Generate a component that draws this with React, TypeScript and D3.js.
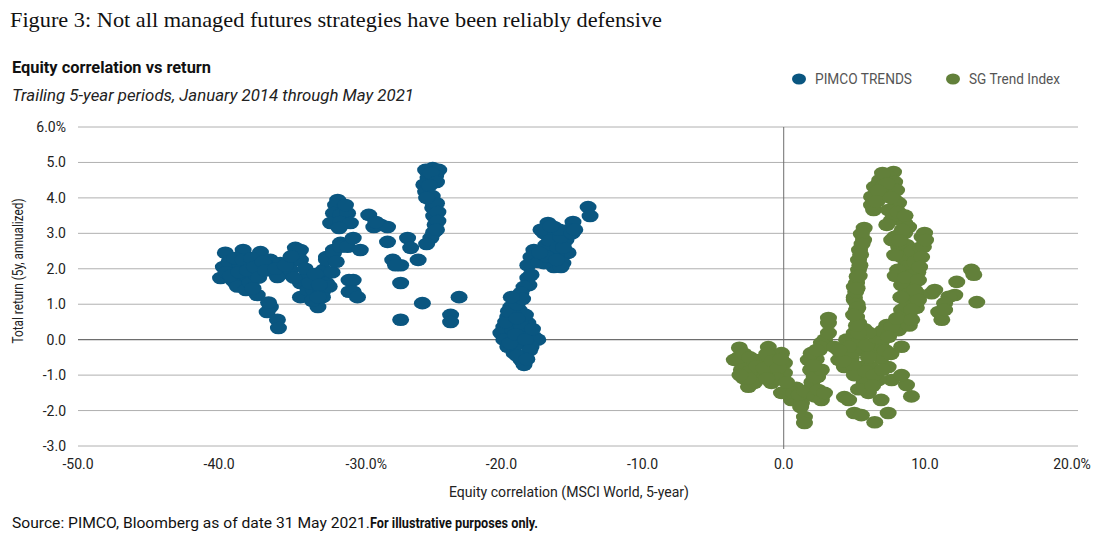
import React from "react";
import * as d3 from "d3";

const xTicks = [-50, -40, -30, -20, -10, 0, 10, 20];
const xTickLabels = ["-50.0", "-40.0", "-30.0%", "-20.0", "-10.0", "0.0", "10.0", "20.0%"];
const yTicks = [6, 5, 4, 3, 2, 1, 0, -1, -2, -3];
const yTickLabels = ["6.0%", "5.0", "4.0", "3.0", "2.0", "1.0", "0.0", "-1.0", "-2.0", "-3.0"];

// [equity correlation %, total return %]
const pimcoTrends: [number, number][] = [
  [-39.9, 1.74], [-39.7, 2.05], [-39.56, 2.45], [-39.3, 2.2], [-39.0, 1.88], [-39.05, 1.68], [-38.85, 1.6],
  [-38.7, 1.5], [-38.5, 2.1], [-38.3, 2.53], [-38.1, 1.83], [-38.1, 1.4], [-37.8, 2.1], [-37.8, 1.6],
  [-37.4, 1.83], [-37.3, 1.26], [-37.07, 2.47], [-36.37, 2.25], [-36.37, 2.05], [-36.37, 0.92], [-36.6, 0.78],
  [-35.87, 0.56], [-35.8, 0.33], [-35.66, 2.16], [-35.45, 1.88], [-35.87, 1.77], [-34.95, 1.97], [-34.6, 2.59],
  [-34.45, 2.25], [-34.24, 1.6], [-34.24, 1.2], [-34.24, 2.53], [-34.24, 2.25], [-33.75, 1.77], [-33.7, 1.4],
  [-33.32, 1.4], [-33.0, 0.92], [-32.8, 1.68], [-32.8, 1.32], [-32.68, 1.35], [-32.68, 1.2], [-32.6, 1.97],
  [-32.4, 2.33], [-32.4, 2.25], [-32.4, 1.6], [-31.9, 2.53], [-31.9, 2.45], [-31.4, 2.73], [-31.4, 2.62],
  [-30.9, 2.62], [-30.8, 1.68], [-30.8, 1.35], [-30.5, 2.87], [-30.0, 2.53], [-30.5, 1.68], [-30.5, 1.35],
  [-30.2, 1.2],
  [-39.5, 1.9], [-39.2, 1.8], [-38.9, 2.3], [-38.6, 1.9], [-38.3, 2.25], [-38.0, 1.95], [-37.7, 2.3],
  [-37.5, 2.05], [-37.2, 1.75], [-36.9, 2.2], [-36.7, 1.95], [-36.0, 2.0], [-35.3, 2.1], [-34.9, 2.35],
  [-34.7, 1.75], [-33.9, 2.0], [-33.6, 1.6], [-33.2, 1.85], [-37.6, 1.45], [-36.5, 1.05],
  [-33.4, 1.1], [-33.0, 1.2], [-32.2, 1.5], [-32.0, 1.9], [-31.7, 2.2], [-32.9, 1.55],
  [-31.6, 3.94], [-31.75, 3.8], [-31.9, 3.57], [-31.4, 3.52], [-30.9, 3.57], [-32.1, 3.29], [-31.4, 3.32],
  [-30.7, 3.29], [-31.05, 3.8], [-31.5, 3.15],
  [-29.4, 3.52], [-29.04, 3.18], [-28.57, 3.24], [-28.07, 3.18], [-28.9, 3.32],
  [-28.07, 2.76], [-27.7, 2.25], [-27.14, 2.1], [-27.5, 2.1], [-26.65, 2.87], [-26.43, 2.59], [-25.9, 2.25],
  [-27.14, 1.6], [-27.14, 0.56], [-25.6, 1.03], [-23.0, 1.2], [-23.6, 0.7], [-23.6, 0.5],
  [-25.37, 4.79], [-24.87, 4.84], [-24.44, 4.79], [-24.66, 4.62], [-25.2, 4.56], [-25.5, 4.37], [-25.37, 4.17],
  [-25.0, 3.94], [-24.87, 3.72], [-24.8, 3.49], [-24.7, 3.24], [-24.8, 3.03], [-25.0, 2.87], [-25.3, 2.7],
  [-25.0, 4.7], [-24.6, 4.45], [-25.1, 4.35], [-24.9, 4.05], [-24.6, 3.85], [-24.5, 3.6], [-24.5, 3.35],
  [-24.6, 3.1], [-25.3, 4.0],
  [-13.86, 3.74], [-13.72, 3.49], [-14.93, 3.32], [-15.2, 3.1], [-15.43, 2.81], [-15.28, 2.45], [-15.64, 2.16],
  [-16.7, 3.29], [-16.99, 3.01], [-16.28, 3.18], [-16.0, 2.81], [-16.49, 2.53], [-16.28, 2.05], [-15.78, 2.05],
  [-16.99, 2.16], [-17.7, 2.53], [-17.91, 2.33], [-18.13, 2.1], [-16.85, 2.67], [-16.14, 2.39], [-17.35, 2.19],
  [-16.5, 3.0], [-16.6, 2.8], [-16.0, 2.6], [-15.6, 2.6], [-16.8, 2.35], [-16.1, 2.25], [-17.3, 2.45],
  [-15.8, 2.9], [-15.9, 3.1], [-17.2, 3.1], [-16.5, 3.2], [-15.0, 3.0], [-14.8, 3.1],
  [-18.13, 1.74], [-18.05, 1.54], [-17.9, 1.83], [-18.4, 1.49], [-18.62, 1.32], [-19.1, 1.12], [-19.33, 0.92],
  [-18.75, 0.84], [-19.55, 0.64], [-19.83, 0.36], [-20.04, 0.19], [-19.83, 0.0], [-19.55, -0.2], [-19.1, -0.38],
  [-18.62, -0.57], [-18.4, -0.71], [-18.13, 0.47], [-17.7, 0.08], [-17.42, 0.0], [-17.9, -0.2], [-18.8, 0.08],
  [-18.4, 0.27], [-19.2, 0.27], [-18.98, -0.15], [-18.6, 0.41],
  [-19.4, -0.1], [-19.0, 0.15], [-18.3, 0.0], [-18.0, -0.3], [-18.9, -0.45], [-19.7, 0.5], [-19.5, 0.8],
  [-18.9, 1.0], [-18.5, 1.15], [-18.3, 0.7], [-17.8, 0.3], [-18.2, -0.55], [-19.3, 1.2], [-18.9, 0.6],
];

const sgTrendIndex: [number, number][] = [
  [-3.14, -0.23], [-3.5, -0.57], [-3.0, -0.85], [-2.5, -1.33], [-2.08, -0.57], [-1.09, -0.21], [-0.16, -0.38],
  [0.05, -0.66], [-0.66, -0.94], [-1.58, -1.05], [-0.87, -1.22], [-2.08, -1.22], [0.05, -0.94], [-2.65, -0.72],
  [-2.86, -1.08], [-1.58, -0.57], [-2.15, -0.9],
  [-3.2, -0.5], [-2.8, -0.4], [-2.4, -0.9], [-2.4, -0.5], [-1.9, -0.75], [-1.4, -0.8], [-1.2, -0.4],
  [-0.8, -0.6], [-0.4, -0.8], [-0.5, -1.1], [-1.2, -1.1], [-2.5, -1.1], [-3.1, -1.0], [-0.2, -0.55],
  [0.34, -1.42], [0.55, -1.7], [1.26, -1.79], [1.47, -2.18], [1.47, -2.35], [-0.16, -1.5], [0.9, -1.36], [1.8, -1.56],
  [0.7, -1.5], [1.1, -1.55], [1.5, -1.45], [2.0, -1.2], [1.9, -0.85], [2.3, -0.55], [2.5, -0.3], [2.9, 0.0],
  [2.4, -1.05], [0.2, -1.2], [1.2, -1.9], [2.2, -1.6],
  [1.74, -0.57], [1.95, -0.38], [2.16, -1.05], [2.45, -1.42], [2.67, -1.7], [2.89, -1.5], [2.67, -0.85],
  [2.67, -0.09], [3.17, 0.19], [3.17, 0.47], [3.17, 0.61], [2.67, -0.21], [2.32, -0.29], [2.1, -0.72],
  [3.6, -0.21], [3.9, -0.57], [4.3, -0.77], [4.1, -0.38], [4.45, 0.0],
  [4.3, -1.62], [4.6, -1.7], [5.0, -2.07], [5.5, -2.13], [6.45, -2.33], [7.4, -2.07], [6.9, -1.7], [6.0, -1.5],
  [5.0, 1.12], [5.16, 0.64], [5.0, 0.19], [5.3, -0.29], [5.5, -0.77], [5.7, -1.22], [6.2, -0.77], [6.45, -0.29],
  [6.9, -0.09], [7.4, 0.19], [7.86, 0.36], [7.4, -0.77], [7.65, -1.14], [6.7, -1.14], [6.1, -0.43], [5.4, 0.0],
  [6.9, -0.52], [5.87, -0.15], [7.3, 0.41], [8.35, 0.41],
  [4.8, -0.5], [4.6, -0.2], [5.0, -1.0], [5.3, -1.4], [5.8, -0.9], [6.0, -0.5], [6.4, -1.0], [6.6, 0.05],
  [7.0, 0.25], [7.2, -0.3], [7.0, -0.85], [6.3, -1.3], [5.7, 0.3], [6.0, 0.2], [7.6, -0.4], [4.9, -0.7],
  [4.2, -0.6], [3.9, -0.3],
  [8.7, -1.28], [9.05, -1.6], [8.35, -1.0], [8.35, -0.2],
  [5.7, 3.15], [5.66, 2.81], [5.37, 2.53], [5.3, 2.25], [5.3, 1.97], [5.16, 1.6], [5.0, 1.49], [5.0, 1.2],
  [5.16, 0.84], [5.3, 0.47], [5.3, 0.19], [5.5, 2.98], [5.2, 1.78], [5.1, 1.35], [5.2, 1.0],
  [5.55, 2.7], [5.45, 2.4], [5.4, 2.1], [5.35, 1.8], [5.2, 1.45], [5.25, 0.9], [5.15, 0.4], [4.95, 0.7],
  [7.78, 4.73], [7.43, 4.59], [6.43, 4.31], [6.22, 4.03], [6.37, 3.66], [7.43, 4.14], [7.86, 3.94], [8.14, 3.86],
  [7.43, 3.66], [7.65, 3.38], [8.35, 3.46], [8.57, 3.29], [8.85, 3.18], [8.57, 3.01], [7.86, 2.9], [8.14, 2.62],
  [8.35, 2.33], [8.57, 2.05], [8.85, 1.77], [9.07, 1.49], [8.85, 1.12], [8.85, 0.75], [8.57, 0.47], [8.14, 0.27],
  [7.65, 0.36], [7.43, 0.08], [6.8, 4.5], [6.9, 4.08], [7.1, 4.36], [7.86, 4.45], [8.0, 4.22], [6.22, 3.8],
  [8.0, 3.52], [8.2, 2.96], [8.7, 2.67], [7.3, 3.24], [7.65, 2.81], [7.86, 2.39], [8.07, 1.97], [8.35, 1.54],
  [8.57, 1.26], [8.35, 0.84],
  [7.0, 4.7], [7.3, 4.4], [6.7, 4.2], [6.6, 3.9], [7.6, 4.0], [8.1, 3.6], [8.6, 3.5], [8.4, 3.1], [8.2, 2.8],
  [9.1, 2.5], [9.3, 2.2], [9.5, 1.9], [9.0, 1.8], [9.2, 1.1], [9.4, 0.9], [8.9, 0.4], [9.8, 2.9], [9.7, 2.6],
  [9.5, 1.3], [8.7, 0.95], [8.3, 1.2], [8.0, 0.6], [7.9, 1.8], [8.6, 1.75],
  [9.98, 3.01], [9.9, 2.62], [9.77, 2.33], [9.63, 2.05], [9.55, 1.68], [9.27, 1.4], [9.55, 1.12], [9.07, 0.84],
  [9.07, 0.56], [10.48, 1.31], [10.7, 1.4], [10.05, 2.81],
  [13.3, 1.97], [13.47, 1.83], [12.26, 1.63], [12.12, 1.26], [11.7, 1.21], [11.4, 1.03], [10.98, 0.78],
  [11.2, 0.56], [11.4, 0.84], [13.68, 1.06],
];

const BLUE = "#0a5680";
const GREEN = "#62803a";

export default function App() {
  const W = 1100, H = 544;
  const x = d3.scaleLinear().domain([-50, 20]).range([78, 1066]);
  const y = d3.scaleLinear().domain([-3, 6]).range([446, 127]);
  const gridX0 = 78, gridX1 = 1078;
  const sans = "Roboto, 'Noto Sans', sans-serif";
  return (
    <svg width={W} height={H} style={{ position: "absolute", left: 0, top: 0, background: "#fff" }}>
      <text x={10} y={27} fontFamily="'Liberation Serif', 'DejaVu Serif', serif" fontSize={21} fill="#111"
        textLength={652} lengthAdjust="spacingAndGlyphs">
        Figure 3: Not all managed futures strategies have been reliably defensive
      </text>
      <text x={12} y={73} fontFamily={sans} fontWeight="bold" fontSize={17} fill="#111"
        textLength={199} lengthAdjust="spacingAndGlyphs">Equity correlation vs return</text>
      <text x={12} y={101} fontFamily={sans} fontStyle="italic" fontSize={17} fill="#222"
        textLength={402} lengthAdjust="spacingAndGlyphs">Trailing 5-year periods, January 2014 through May 2021</text>

      {/* legend */}
      <ellipse cx={799} cy={79} rx={7} ry={5.5} fill={BLUE} />
      <text x={815} y={84} fontFamily={sans} fontSize={14} fill="#555" textLength={97} lengthAdjust="spacingAndGlyphs">PIMCO TRENDS</text>
      <ellipse cx={953} cy={79} rx={7} ry={5.5} fill={GREEN} />
      <text x={969} y={84} fontFamily={sans} fontSize={14} fill="#555" textLength={91} lengthAdjust="spacingAndGlyphs">SG Trend Index</text>

      {/* grid */}
      {yTicks.map((t) => (
        <line key={"g" + t} x1={gridX0} x2={gridX1} y1={y(t)} y2={y(t)}
          stroke={t === 0 ? "#6e6e6e" : "#b0b0b0"} strokeWidth={t === 0 ? 1.4 : 1} />
      ))}
      <line x1={x(0)} x2={x(0)} y1={y(6)} y2={y(-3) + 3} stroke="#6e6e6e" strokeWidth={1} />

      {/* y ticks */}
      {yTicks.map((t, i) => (
        <text key={"yl" + t} x={66} y={y(t) + 5} textAnchor="end" fontFamily={sans} fontSize={14} fill="#222">
          {yTickLabels[i]}
        </text>
      ))}
      {/* x ticks */}
      {xTicks.map((t, i) => (
        <text key={"xl" + t} x={x(t) + (xTickLabels[i].endsWith("%") ? 6 : 0)} y={469} textAnchor="middle"
          fontFamily={sans} fontSize={14} fill="#222">
          {xTickLabels[i]}
        </text>
      ))}

      <text transform={`translate(23,${271}) rotate(-90)`} textAnchor="middle" fontFamily={sans} fontSize={15} fill="#222"
        textLength={145} lengthAdjust="spacingAndGlyphs">Total return (5y, annualized)</text>
      <text x={569} y={497} textAnchor="middle" fontFamily={sans} fontSize={14} fill="#222"
        textLength={240} lengthAdjust="spacingAndGlyphs">Equity correlation (MSCI World, 5-year)</text>

      {/* points */}
      {pimcoTrends.map((d, i) => (
        <ellipse key={"b" + i} cx={x(d[0])} cy={y(d[1])} rx={8.5} ry={6.3} fill={BLUE} />
      ))}
      {sgTrendIndex.map((d, i) => (
        <ellipse key={"s" + i} cx={x(d[0])} cy={y(d[1])} rx={8.5} ry={6.3} fill={GREEN} />
      ))}

      <text x={12} y={528} fontFamily={sans} fontSize={14} fill="#111">
        <tspan textLength={358} lengthAdjust="spacingAndGlyphs">Source: PIMCO, Bloomberg as of date 31 May 2021.</tspan>
        <tspan fontWeight="bold" textLength={168} lengthAdjust="spacingAndGlyphs">For illustrative purposes only.</tspan>
      </text>
    </svg>
  );
}
